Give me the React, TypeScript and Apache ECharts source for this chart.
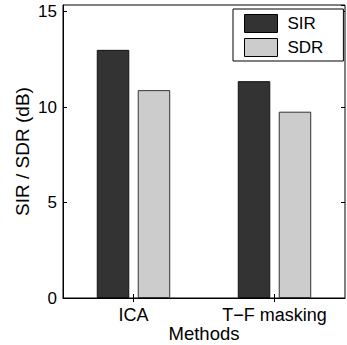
import React, { useEffect, useRef } from "react";
import * as echarts from "echarts";

const categories = ["ICA", "T\u2212F masking"];
const sirValues = [13.0, 11.36];
const sdrValues = [10.89, 9.76];
const yTicks = { min: 0, max: 15.35, interval: 5 };

const FONT = "'Liberation Sans', Arial, Helvetica, sans-serif";

export default function App() {
  const ref = useRef<HTMLDivElement>(null);
  useEffect(() => {
    document.body.style.margin = "0";
    if (!ref.current) return;
    const chart = echarts.init(ref.current, undefined, { renderer: "svg" });
    const tickStyle = { show: true, inside: true, length: 4, lineStyle: { color: "#000", width: 1 } };
    chart.setOption({
      animation: false,
      textStyle: { fontFamily: FONT },
      grid: {
        left: 63,
        right: 2,
        top: 5,
        bottom: 47,
        containLabel: false,
        outerBoundsMode: "none",
        show: true,
        borderColor: "#000",
        borderWidth: 1,
        backgroundColor: "#fff",
      },
      legend: {
        left: 233,
        top: 9,
        orient: "vertical",
        icon: "rect",
        itemWidth: 33,
        itemHeight: 18,
        itemGap: 5,
        backgroundColor: "#fff",
        borderColor: "#000",
        borderWidth: 1,
        borderRadius: 0,
        padding: [5, 20, 4, 11],
        textStyle: { fontSize: 17, color: "#000", fontFamily: FONT, padding: [0, 0, 0, 5] },
        data: [
          { name: "SIR", itemStyle: { color: "#333333", borderColor: "#000", borderWidth: 1 } },
          { name: "SDR", itemStyle: { color: "#cccccc", borderColor: "#000", borderWidth: 1 } },
        ],
      },
      xAxis: [
        {
          type: "category",
          data: categories,
          position: "bottom",
          axisLine: { show: true, lineStyle: { color: "#000", width: 1 } },
          axisTick: { ...tickStyle, alignWithLabel: true },
          axisLabel: { fontSize: 18, color: "#000", margin: 8, fontFamily: FONT },
          name: "Methods",
          nameLocation: "middle",
          nameGap: 26,
          nameMoveOverlap: false,
          nameTextStyle: { fontSize: 18.5, color: "#000", fontFamily: FONT, verticalAlign: "top" },
        },
        {
          type: "category",
          data: categories,
          position: "top",
          axisLine: { show: false },
          axisTick: { ...tickStyle, alignWithLabel: true },
          axisLabel: { show: false },
        },
      ],
      yAxis: [
        {
          type: "value",
          min: yTicks.min,
          max: yTicks.max,
          interval: yTicks.interval,
          position: "left",
          axisLine: { show: true, lineStyle: { color: "#000", width: 1 } },
          axisTick: tickStyle,
          splitLine: { show: false },
          axisLabel: { fontSize: 17, color: "#000", margin: 6, showMaxLabel: false, fontFamily: FONT },
          name: "SIR / SDR (dB)",
          nameLocation: "middle",
          nameRotate: 90,
          nameGap: 31,
          nameMoveOverlap: false,
          nameTextStyle: { fontSize: 19, color: "#000", fontFamily: FONT },
        },
        {
          type: "value",
          min: yTicks.min,
          max: yTicks.max,
          interval: yTicks.interval,
          position: "right",
          axisLine: { show: false },
          axisTick: tickStyle,
          splitLine: { show: false },
          axisLabel: { show: false },
        },
      ],
      series: [
        {
          name: "SIR",
          type: "bar",
          data: sirValues,
          barWidth: 32.5,
          barGap: "26%",
          itemStyle: { color: "#333333", borderColor: "#111", borderWidth: 1 },
        },
        {
          name: "SDR",
          type: "bar",
          data: sdrValues,
          barWidth: 32.5,
          barGap: "26%",
          itemStyle: { color: "#cccccc", borderColor: "#333", borderWidth: 1 },
        },
      ],
    });
    return () => chart.dispose();
  }, []);
  return <div ref={ref} style={{ width: 347, height: 345 }} />;
}
